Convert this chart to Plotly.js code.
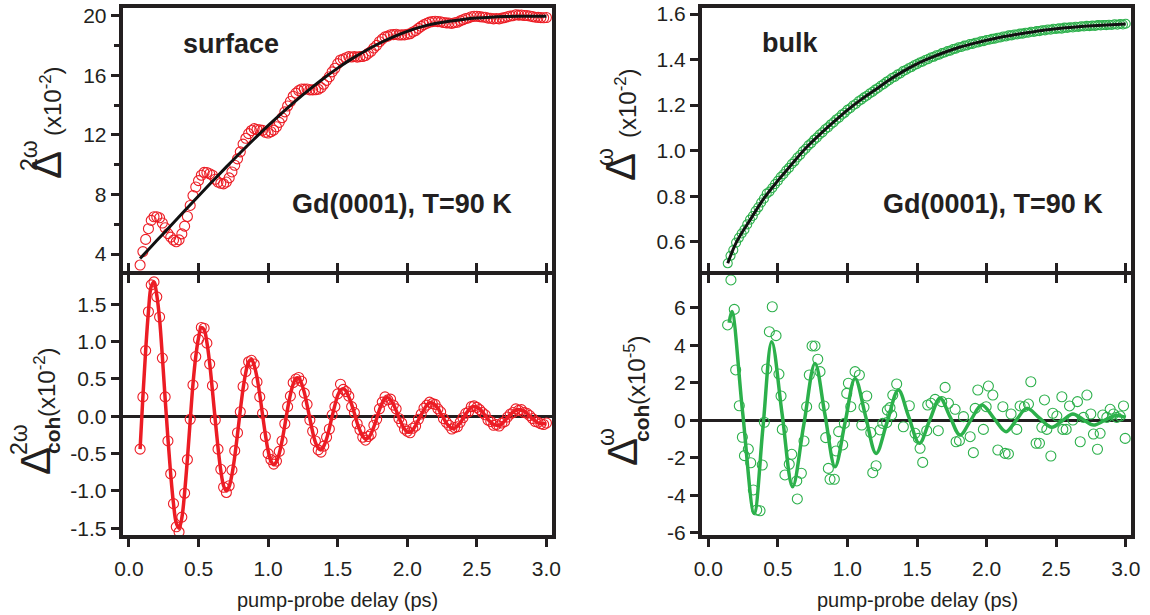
<!DOCTYPE html>
<html><head><meta charset="utf-8">
<script src="https://cdn.plot.ly/plotly-3.0.1.min.js"></script>
<style>html,body{margin:0;padding:0;background:#fff}#chart{width:1150px;height:615px}</style>
</head><body><div id="chart"></div>
<script>
// ---------- data ----------
const delayRed = [
0.08,0.10,0.12,0.14,0.16,0.18,0.20,0.22,0.24,0.26,
0.28,0.30,0.32,0.34,0.36,0.38,0.40,0.42,0.44,0.46,
0.48,0.50,0.52,0.54,0.56,0.58,0.60,0.62,0.64,0.66,
0.68,0.70,0.72,0.74,0.76,0.78,0.80,0.82,0.84,0.86,
0.88,0.90,0.92,0.94,0.96,0.98,1.00,1.02,1.04,1.06,
1.08,1.10,1.12,1.14,1.16,1.18,1.20,1.22,1.24,1.26,
1.28,1.30,1.32,1.34,1.36,1.38,1.40,1.42,1.44,1.46,
1.48,1.50,1.52,1.54,1.56,1.58,1.60,1.62,1.64,1.66,
1.68,1.70,1.72,1.74,1.76,1.78,1.80,1.82,1.84,1.86,
1.88,1.90,1.92,1.94,1.96,1.98,2.00,2.02,2.04,2.06,
2.08,2.10,2.12,2.14,2.16,2.18,2.20,2.22,2.24,2.26,
2.28,2.30,2.32,2.34,2.36,2.38,2.40,2.42,2.44,2.46,
2.48,2.50,2.52,2.54,2.56,2.58,2.60,2.62,2.64,2.66,
2.68,2.70,2.72,2.74,2.76,2.78,2.80,2.82,2.84,2.86,
2.88,2.90,2.92,2.94,2.96,2.98,3.00];

const surfaceData = [
3.26,4.16,4.98,5.70,6.26,6.50,6.50,6.43,6.08,5.76,
5.37,5.13,4.93,4.82,4.95,5.35,5.87,6.52,7.26,7.92,
8.50,8.93,9.29,9.48,9.47,9.39,9.29,9.02,8.83,8.75,
8.71,8.83,9.11,9.51,9.96,10.39,10.86,11.38,11.77,12.08,
12.29,12.42,12.36,12.34,12.30,12.17,12.12,12.21,12.32,12.54,
12.84,13.15,13.54,13.94,14.24,14.59,14.80,14.97,15.08,15.07,
15.08,15.02,15.02,15.03,15.06,15.17,15.40,15.66,15.90,16.23,
16.47,16.78,17.03,17.09,17.18,17.25,17.23,17.26,17.22,17.25,
17.26,17.33,17.48,17.61,17.83,18.01,18.25,18.43,18.58,18.63,
18.72,18.73,18.75,18.70,18.71,18.71,18.75,18.79,18.91,19.00,
19.15,19.28,19.40,19.49,19.57,19.60,19.63,19.60,19.59,19.54,
19.52,19.51,19.48,19.53,19.56,19.65,19.73,19.81,19.85,19.93,
19.96,19.96,19.94,19.91,19.90,19.84,19.83,19.79,19.81,19.79,
19.84,19.87,19.93,19.98,20.00,20.06,20.04,20.05,20.01,20.01,
19.98,19.94,19.90,19.89,19.87,19.86,19.88];

const surfaceFitX = [0.08,0.1,0.2,0.3,0.4,0.5,0.6,0.7,0.8,0.9,1.0,1.1,1.2,1.3,1.4,1.5,1.6,1.7,1.8,1.9,2.0,2.1,2.2,2.3,2.4,2.5,2.6,2.7,2.8,2.9,3.0];
const surfaceFitY = [3.70,3.90,4.90,5.90,6.90,7.90,8.88,9.85,10.80,11.72,12.62,13.48,14.30,15.07,15.80,16.48,17.10,17.65,18.15,18.58,18.95,19.25,19.47,19.63,19.75,19.84,19.90,19.94,19.96,19.97,19.97];

const surfCohData = [
-0.44,0.26,0.88,1.40,1.76,1.80,1.60,1.33,0.78,0.26,
-0.33,-0.77,-1.17,-1.48,-1.55,-1.35,-1.03,-0.58,-0.04,0.42,
0.80,1.03,1.19,1.18,0.98,0.70,0.41,-0.05,-0.44,-0.71,
-0.95,-1.02,-0.93,-0.72,-0.46,-0.22,0.06,0.40,0.60,0.73,
0.75,0.70,0.46,0.26,0.04,-0.27,-0.50,-0.58,-0.64,-0.60,
-0.47,-0.33,-0.10,0.13,0.27,0.45,0.50,0.52,0.47,0.31,
0.16,-0.05,-0.20,-0.33,-0.45,-0.48,-0.40,-0.28,-0.17,0.02,
0.13,0.30,0.43,0.36,0.33,0.27,0.13,0.05,-0.10,-0.18,
-0.28,-0.32,-0.27,-0.24,-0.12,-0.04,0.10,0.19,0.26,0.22,
0.23,0.15,0.10,-0.03,-0.09,-0.17,-0.20,-0.22,-0.16,-0.13,
-0.04,0.03,0.11,0.15,0.19,0.17,0.16,0.10,0.06,-0.03,
-0.08,-0.12,-0.17,-0.15,-0.14,-0.08,-0.02,0.04,0.06,0.13,
0.14,0.12,0.09,0.05,0.02,-0.05,-0.07,-0.12,-0.11,-0.13,
-0.09,-0.07,-0.01,0.03,0.05,0.10,0.08,0.09,0.05,0.04,
0.01,-0.03,-0.07,-0.08,-0.10,-0.11,-0.09];

const surfCohFit = [
-0.44,0.26,0.88,1.40,1.74,1.80,1.62,1.30,0.80,0.24,
-0.30,-0.78,-1.17,-1.43,-1.50,-1.36,-1.02,-0.57,-0.06,0.43,
0.80,1.05,1.19,1.16,0.99,0.71,0.34,-0.05,-0.42,-0.73,
-0.93,-1.00,-0.94,-0.78,-0.54,-0.24,0.08,0.37,0.59,0.73,
0.76,0.68,0.52,0.29,0.02,-0.24,-0.46,-0.60,-0.65,-0.61,
-0.50,-0.33,-0.12,0.10,0.29,0.43,0.51,0.51,0.44,0.32,
0.15,-0.03,-0.21,-0.35,-0.43,-0.45,-0.40,-0.30,-0.16,0.00,
0.15,0.28,0.35,0.37,0.34,0.26,0.16,0.04,-0.09,-0.19,
-0.27,-0.30,-0.29,-0.23,-0.14,-0.03,0.09,0.18,0.24,0.25,
0.22,0.16,0.08,-0.02,-0.10,-0.17,-0.21,-0.21,-0.18,-0.12,
-0.05,0.02,0.09,0.15,0.18,0.18,0.15,0.11,0.04,-0.02,
-0.09,-0.13,-0.16,-0.16,-0.13,-0.09,-0.03,0.03,0.08,0.12,
0.13,0.12,0.10,0.06,0.01,-0.04,-0.08,-0.11,-0.12,-0.12,
-0.10,-0.06,-0.02,0.02,0.06,0.08,0.09,0.08,0.07,0.04,
0.00,-0.03,-0.06,-0.09,-0.10,-0.10,-0.10];

const delayGreen = [
0.14,0.16,0.18,0.20,0.22,0.24,0.26,0.28,0.30,0.32,
0.34,0.36,0.38,0.40,0.42,0.44,0.46,0.48,0.50,0.52,
0.54,0.56,0.58,0.60,0.62,0.64,0.66,0.68,0.70,0.72,
0.74,0.76,0.78,0.80,0.82,0.84,0.86,0.88,0.90,0.92,
0.94,0.96,0.98,1.00,1.02,1.04,1.06,1.08,1.10,1.12,
1.14,1.16,1.18,1.20,1.22,1.24,1.26,1.28,1.30,1.32,
1.34,1.36,1.38,1.40,1.42,1.44,1.46,1.48,1.50,1.52,
1.54,1.56,1.58,1.60,1.62,1.64,1.66,1.68,1.70,1.72,
1.74,1.76,1.78,1.80,1.82,1.84,1.86,1.88,1.90,1.92,
1.94,1.96,1.98,2.00,2.02,2.04,2.06,2.08,2.10,2.12,
2.14,2.16,2.18,2.20,2.22,2.24,2.26,2.28,2.30,2.32,
2.34,2.36,2.38,2.40,2.42,2.44,2.46,2.48,2.50,2.52,
2.54,2.56,2.58,2.60,2.62,2.64,2.66,2.68,2.70,2.72,
2.74,2.76,2.78,2.80,2.82,2.84,2.86,2.88,2.90,2.92,
2.94,2.96,2.98,3.00];

const bulkData = [
0.505,0.538,0.563,0.596,0.617,0.636,0.653,0.676,0.697,0.713,
0.735,0.751,0.772,0.789,0.811,0.820,0.836,0.853,0.867,0.884,
0.896,0.912,0.924,0.941,0.953,0.970,0.981,0.997,1.008,1.023,
1.033,1.047,1.057,1.071,1.080,1.094,1.102,1.115,1.124,1.137,
1.145,1.158,1.166,1.179,1.186,1.198,1.205,1.217,1.224,1.234,
1.241,1.251,1.258,1.268,1.275,1.285,1.292,1.302,1.309,1.319,
1.324,1.334,1.339,1.349,1.354,1.362,1.367,1.375,1.380,1.387,
1.391,1.398,1.402,1.409,1.412,1.419,1.421,1.428,1.431,1.437,
1.439,1.446,1.448,1.454,1.455,1.461,1.462,1.468,1.469,1.474,
1.475,1.480,1.481,1.486,1.487,1.491,1.492,1.496,1.497,1.501,
1.501,1.506,1.506,1.510,1.510,1.514,1.514,1.518,1.518,1.522,
1.521,1.525,1.525,1.529,1.528,1.532,1.531,1.535,1.534,1.537,
1.536,1.540,1.539,1.542,1.541,1.544,1.543,1.546,1.545,1.548,
1.547,1.549,1.548,1.551,1.550,1.552,1.551,1.553,1.552,1.555,
1.553,1.556,1.554,1.557];

const bulkFitX = [0.14,0.2,0.3,0.4,0.5,0.6,0.7,0.8,0.9,1.0,1.1,1.2,1.3,1.4,1.5,1.6,1.7,1.8,1.9,2.0,2.1,2.2,2.3,2.4,2.5,2.6,2.7,2.8,2.9,3.0];
const bulkFitY = [0.505,0.595,0.695,0.79,0.868,0.94,1.01,1.07,1.125,1.178,1.225,1.267,1.31,1.348,1.381,1.408,1.432,1.453,1.47,1.485,1.498,1.509,1.519,1.528,1.535,1.541,1.546,1.55,1.553,1.556];

const bulkCohX = [
0.139,0.163,0.187,0.197,0.223,0.245,0.260,0.288,0.305,0.324,
0.348,0.372,0.388,0.403,0.420,0.439,0.460,0.487,0.508,0.523,
0.532,0.551,0.582,0.600,0.636,0.640,0.669,0.688,0.707,0.726,
0.746,0.767,0.787,0.803,0.832,0.844,0.863,0.875,0.906,0.918,
0.937,0.966,0.978,0.995,1.007,1.024,1.055,1.086,1.103,1.119,
1.139,1.168,1.182,1.206,1.234,1.254,1.282,1.287,1.306,1.318,
1.326,1.354,1.402,1.445,1.486,1.510,1.522,1.541,1.570,1.577,
1.601,1.630,1.653,1.678,1.702,1.726,1.774,1.781,1.805,1.834,
1.882,1.905,1.918,1.937,1.977,1.997,2.013,2.045,2.081,2.117,
2.133,2.157,2.176,2.217,2.241,2.272,2.301,2.318,2.356,2.380,
2.397,2.416,2.433,2.462,2.476,2.505,2.541,2.548,2.572,2.596,
2.620,2.653,2.673,2.696,2.721,2.749,2.768,2.797,2.816,2.835,
2.864,2.888,2.912,2.936,2.960,2.984,2.996];
const bulkCohY = [
5.08,7.48,5.91,2.68,0.77,-0.91,-1.89,-1.54,-2.27,-3.72,
-4.79,-4.83,-2.39,-0.11,2.73,4.72,6.05,4.51,2.46,1.29,
-0.49,-2.92,-2.35,-1.82,-3.24,-4.20,-2.83,-1.11,0.72,2.41,
3.96,3.96,3.25,2.59,0.76,-0.93,-2.57,-3.15,-3.15,-1.64,
-0.61,-1.32,-0.17,1.43,1.97,0.72,2.59,2.41,-0.26,0.69,
1.29,-0.66,-2.80,-2.43,-0.52,-0.17,-0.13,0.54,0.67,0.28,
1.34,1.93,-0.35,0.77,-0.70,-0.97,-1.50,-2.25,-0.56,0.81,
0.90,1.11,-0.56,0.99,1.75,0.90,0.58,-1.15,-1.09,0.19,
-0.88,-1.73,0.63,1.61,-0.49,0.72,1.82,1.34,-1.59,0.72,
-1.77,-1.80,0.33,-0.49,0.76,0.72,0.86,2.05,-1.23,-1.23,
-0.38,1.08,-0.49,-1.91,0.37,0.22,1.25,-0.49,-0.49,0.76,
0.01,0.99,-1.15,0.15,1.34,0.33,-0.74,-1.55,-0.70,0.28,
0.15,0.58,0.33,0.15,0.22,0.76,-0.97];

const bulkCohFitX = [0.15,0.17,0.247,0.33,0.393,0.456,0.531,0.606,0.686,0.767,0.839,0.911,0.983,1.055,1.13,1.206,1.286,1.366,1.44,1.517,1.59,1.666,1.737,1.809,1.887,1.966,2.053,2.14,2.214,2.289,2.379,2.469,2.544,2.62,2.694,2.768,2.85,2.93,3.0];
const bulkCohFitY = [5.2,5.8,0.42,-4.97,-0.39,4.19,0.32,-3.55,-0.26,3.03,0.28,-2.48,-0.13,2.23,0.23,-1.77,-0.08,1.61,0.19,-1.23,-0.03,1.17,0.19,-0.79,0.01,0.81,0.10,-0.61,0.01,0.63,0.125,-0.38,-0.025,0.33,0.035,-0.26,0.0,0.25,0.15];

// tick values / labels
const xTickVals = [0,0.5,1,1.5,2,2.5,3];
const xTickText = ['0.0','0.5','1.0','1.5','2.0','2.5','3.0'];
const surfTickVals = [4,8,12,16,20];
const surfTickText = ['4','8','12','16','20'];
const surfMinorVals = [6,10,14,18];
const surfCohTickVals = [-1.5,-1,-0.5,0,0.5,1,1.5];
const surfCohTickText = ['-1.5','-1.0','-0.5','0.0','0.5','1.0','1.5'];
const bulkTickVals = [0.6,0.8,1.0,1.2,1.4,1.6];
const bulkTickText = ['0.6','0.8','1.0','1.2','1.4','1.6'];
const bulkCohTickVals = [-6,-4,-2,0,2,4,6];
const bulkCohTickText = ['-6','-4','-2','0','2','4','6'];

// ---------- styling ----------
const W = 1150, H = 615;
const px = v => v / W, py = v => 1 - v / H;
const INK = '#231f20', RED = '#ec1c24', GREEN = '#2cb04b';
const FONT = 'Liberation Sans, Arial, sans-serif';
const TICKSZ = 21;

function ax(extra) {
  return Object.assign({
    showline: true, linewidth: 4, linecolor: INK, mirror: true,
    showgrid: false, zeroline: false, ticks: 'outside', ticklen: 8, tickwidth: 3,
    tickcolor: INK, tickfont: {family: FONT, size: TICKSZ, color: INK}, fixedrange: true
  }, extra);
}
const LX = [px(122.7), px(552)], RX = [px(702), px(1131.3)];
const TY = [py(270.7), py(8)], BY = [py(535), py(274.7)];
const XR = [-0.045, 3.04];

const layout = {
  width: W, height: H, margin: {l: 0, r: 0, t: 0, b: 0},
  paper_bgcolor: '#fff', plot_bgcolor: '#fff', showlegend: false,
  font: {family: FONT, color: INK},
  xaxis:  ax({domain: LX, range: XR, anchor: 'y',  tickvals: xTickVals, showticklabels: false}),
  xaxis2: ax({domain: LX, range: XR, anchor: 'y2', tickvals: xTickVals, ticktext: xTickText, mirror: 'ticks', ticklabelstandoff: 4}),
  xaxis3: ax({domain: RX, range: XR, anchor: 'y3', tickvals: xTickVals, showticklabels: false}),
  xaxis4: ax({domain: RX, range: XR, anchor: 'y4', tickvals: xTickVals, ticktext: xTickText, mirror: 'ticks', ticklabelstandoff: 4}),
  yaxis:  ax({domain: TY, range: [2.879, 20.517], anchor: 'x', tickvals: surfTickVals, ticktext: surfTickText,
              minor: {tickvals: surfMinorVals, ticks: 'outside', ticklen: 5, tickwidth: 3, tickcolor: INK}}),
  yaxis2: ax({domain: BY, range: [-1.5897, 1.8964], anchor: 'x2', tickvals: surfCohTickVals, ticktext: surfCohTickText,
              zeroline: true, zerolinecolor: INK, zerolinewidth: 3}),
  yaxis3: ax({domain: TY, range: [0.4726, 1.6264], anchor: 'x3', tickvals: bulkTickVals, ticktext: bulkTickText}),
  yaxis4: ax({domain: BY, range: [-6.123, 7.76], anchor: 'x4', tickvals: bulkCohTickVals, ticktext: bulkCohTickText,
              zeroline: true, zerolinecolor: INK, zerolinewidth: 3}),
  annotations: []
};

function note(text, x, y, size, opts) {
  layout.annotations.push(Object.assign({
    text: text, xref: 'paper', yref: 'paper', x: px(x), y: py(y),
    xanchor: 'center', yanchor: 'middle', showarrow: false,
    font: {family: FONT, size: size, color: INK}
  }, opts || {}));
}
function bold(text, x, y, size) {
  note('<b>' + text + '</b>', x, y, size);
}
// panel labels
bold('surface', 231, 44, 27);
bold('Gd(0001), T=90 K', 402, 204, 27);
bold('bulk', 790, 43, 27);
bold('Gd(0001), T=90 K', 993, 204, 27);
// x titles
note('pump-probe delay (ps)', 337, 600, 20);
note('pump-probe delay (ps)', 917, 600, 20);
// y titles (rotated pieces)
const R = {textangle: -90};
// top-left
note('\u0394', 46, 165, 42, R);
note('2\u03c9', 29, 156, 23, R);
note('(x10<sup>-2</sup>)', 51, 101, 24, R);
// bottom-left
note('\u0394', 35, 461, 42, R);
note('2\u03c9', 19, 440, 23, R);
note('<b>coh</b>', 52, 436, 21, R);
note('(x10<sup>-2</sup>)', 45, 382, 24, R);
// top-right
note('\u0394', 621, 167, 42, R);
note('\u03c9', 605, 157, 23, R);
note('(x10<sup>-2</sup>)', 626, 103, 24, R);
// bottom-right
note('\u0394', 622, 452, 42, R);
note('\u03c9', 606, 437, 23, R);
note('<b>coh</b>', 641, 424, 21, R);
note('(x10<sup>-5</sup>)', 635, 370, 24, R);

const openRed = {symbol: 'circle-open', size: 10, color: RED, line: {width: 1.1, color: RED}};
const openGreen = {symbol: 'circle-open', size: 10, color: GREEN, line: {width: 1.1, color: GREEN}};

const data = [
  {x: delayRed, y: surfaceData, mode: 'markers', marker: openRed, xaxis: 'x', yaxis: 'y', cliponaxis: false, hoverinfo: 'skip'},
  {x: surfaceFitX, y: surfaceFitY, mode: 'lines', line: {color: '#111', width: 3, shape: 'spline'}, xaxis: 'x', yaxis: 'y', hoverinfo: 'skip'},
  {x: delayRed, y: surfCohData, mode: 'markers', marker: openRed, xaxis: 'x2', yaxis: 'y2', cliponaxis: false, hoverinfo: 'skip'},
  {x: delayRed, y: surfCohFit, mode: 'lines', line: {color: RED, width: 3.5, shape: 'spline'}, xaxis: 'x2', yaxis: 'y2', hoverinfo: 'skip'},
  {x: delayGreen, y: bulkData, mode: 'markers', marker: Object.assign({}, openGreen, {size: 9}), xaxis: 'x3', yaxis: 'y3', cliponaxis: false, hoverinfo: 'skip'},
  {x: bulkFitX, y: bulkFitY, mode: 'lines', line: {color: '#111', width: 3, shape: 'spline'}, xaxis: 'x3', yaxis: 'y3', hoverinfo: 'skip'},
  {x: bulkCohX, y: bulkCohY, mode: 'markers', marker: openGreen, xaxis: 'x4', yaxis: 'y4', cliponaxis: false, hoverinfo: 'skip'},
  {x: bulkCohFitX, y: bulkCohFitY, mode: 'lines', line: {color: GREEN, width: 3.5, shape: 'spline'}, xaxis: 'x4', yaxis: 'y4', hoverinfo: 'skip'}
];

Plotly.newPlot('chart', data, layout, {staticPlot: true, displayModeBar: false});
</script></body></html>
